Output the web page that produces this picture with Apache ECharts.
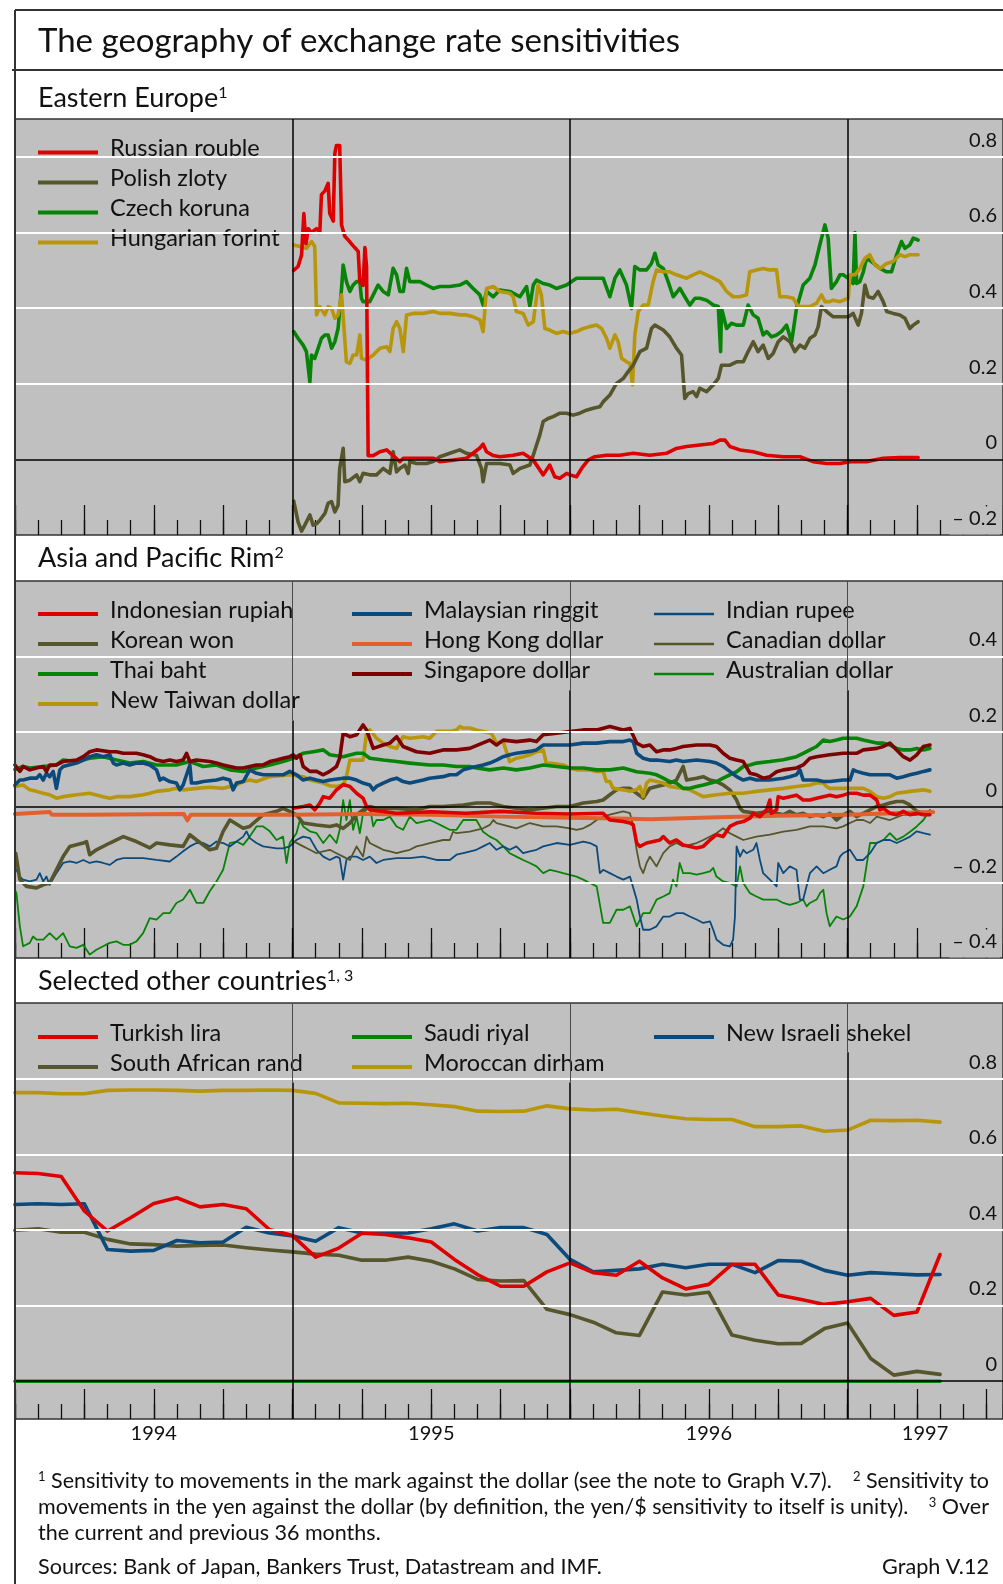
<!DOCTYPE html>
<html>
<head>
<meta charset="utf-8">
<title>The geography of exchange rate sensitivities</title>
<script src="https://cdn.jsdelivr.net/npm/echarts@6/dist/echarts.min.js"></script>
<style>
  html, body { margin: 0; padding: 0; background: #ffffff; }
  #chart { width: 1003px; height: 1584px; }
</style>
</head>
<body>
<div id="chart"></div>
<script>
// x values are months elapsed since 1 January 1994

// ---------- Eastern Europe ----------
const rouble = [[12.05,0.50],[12.24,0.51],[12.39,0.54],[12.49,0.65],[12.58,0.57],[12.68,0.61],[12.82,0.60],[13.04,0.61],[13.18,0.60],[13.25,0.70],[13.40,0.71],[13.54,0.73],[13.61,0.65],[13.76,0.63],[13.83,0.81],[13.90,0.83],[14.04,0.83],[14.12,0.62],[14.26,0.59],[14.41,0.58],[14.55,0.57],[14.69,0.56],[14.84,0.55],[14.91,0.47],[15.05,0.46],[15.13,0.56],[15.20,0.51],[15.27,0.01],[15.49,0.01],[15.78,0.02],[16.07,0.025],[16.35,0.01],[16.64,-0.006],[16.79,0.003],[17.22,0.003],[18.08,0.003],[18.37,-0.006],[18.95,-0.002],[19.52,0.003],[20.10,0.03],[20.24,0.04],[20.39,0.02],[20.68,0.01],[20.96,0.007],[21.54,0.011],[21.97,0.016],[22.41,-0.002],[22.84,-0.041],[23.12,-0.015],[23.34,-0.046],[23.56,-0.05],[23.85,-0.037],[23.99,-0.041],[24.28,-0.046],[24.50,-0.024],[24.78,-0.002],[25.07,0.007],[25.58,0.011],[26.15,0.011],[26.73,0.016],[27.45,0.011],[28.17,0.016],[28.60,0.029],[29.04,0.034],[29.61,0.038],[30.19,0.042],[30.48,0.051],[30.70,0.051],[30.91,0.034],[31.34,0.025],[31.92,0.02],[32.50,0.011],[33.22,0.007],[33.94,0.007],[34.51,-0.006],[35.09,-0.011],[35.67,-0.011],[36.10,-0.006],[36.53,-0.006],[36.82,-0.006],[37.54,0.003],[38.26,0.005],[39.05,0.005]];
const zloty = [[12.05,-0.11],[12.24,-0.165],[12.39,-0.19],[12.53,-0.174],[12.75,-0.147],[12.89,-0.174],[13.04,-0.170],[13.18,-0.161],[13.40,-0.143],[13.54,-0.116],[13.69,-0.112],[13.83,-0.139],[13.97,-0.121],[14.04,-0.024],[14.19,0.029],[14.26,-0.059],[14.48,-0.055],[14.77,-0.041],[14.91,-0.059],[15.05,-0.037],[15.34,-0.041],[15.63,-0.041],[15.92,-0.024],[16.21,-0.037],[16.35,0.02],[16.50,-0.033],[16.64,-0.024],[16.86,-0.015],[17.00,-0.037],[17.07,-0.006],[17.36,-0.011],[17.79,-0.011],[18.08,-0.006],[18.37,0.007],[18.80,0.016],[19.23,0.025],[19.52,0.016],[19.95,0.011],[20.17,-0.024],[20.24,-0.059],[20.39,-0.011],[20.96,-0.011],[21.40,-0.015],[21.54,-0.037],[21.83,-0.024],[22.26,-0.015],[22.41,0.011],[22.55,0.038],[22.69,0.064],[22.84,0.10],[23.05,0.108],[23.27,0.113],[23.56,0.122],[23.85,0.122],[24.13,0.117],[24.42,0.122],[24.71,0.130],[25.00,0.135],[25.29,0.139],[25.43,0.152],[25.72,0.170],[26.01,0.201],[26.30,0.214],[26.51,0.232],[26.73,0.249],[27.02,0.285],[27.31,0.294],[27.52,0.346],[27.67,0.355],[28.03,0.342],[28.31,0.324],[28.60,0.294],[28.82,0.276],[28.96,0.161],[29.11,0.174],[29.32,0.179],[29.47,0.166],[29.61,0.188],[29.90,0.179],[30.19,0.197],[30.41,0.214],[30.55,0.249],[30.91,0.249],[31.20,0.258],[31.49,0.258],[31.70,0.285],[31.92,0.311],[32.13,0.285],[32.35,0.302],[32.57,0.267],[32.78,0.280],[33.00,0.311],[33.22,0.324],[33.51,0.311],[33.72,0.285],[33.94,0.302],[34.15,0.294],[34.37,0.320],[34.59,0.329],[34.73,0.351],[34.87,0.404],[35.09,0.391],[35.38,0.377],[35.67,0.377],[36.03,0.377],[36.24,0.386],[36.46,0.355],[36.60,0.386],[36.75,0.461],[36.89,0.430],[37.11,0.426],[37.32,0.444],[37.54,0.417],[37.69,0.391],[37.97,0.386],[38.26,0.382],[38.48,0.373],[38.69,0.346],[38.84,0.355],[39.05,0.364]];
const koruna = [[12.05,0.338],[12.24,0.320],[12.46,0.302],[12.60,0.285],[12.75,0.205],[12.82,0.276],[12.96,0.267],[13.11,0.294],[13.25,0.320],[13.40,0.329],[13.54,0.329],[13.69,0.294],[13.83,0.311],[13.97,0.346],[14.12,0.452],[14.19,0.514],[14.33,0.470],[14.48,0.444],[14.62,0.461],[14.77,0.470],[14.91,0.470],[14.98,0.426],[15.05,0.417],[15.34,0.417],[15.49,0.435],[15.70,0.461],[15.92,0.444],[16.14,0.435],[16.35,0.505],[16.50,0.488],[16.64,0.444],[16.79,0.444],[16.93,0.505],[17.07,0.470],[17.51,0.470],[17.79,0.461],[18.08,0.452],[18.37,0.457],[18.80,0.457],[19.23,0.461],[19.52,0.470],[19.81,0.452],[20.10,0.435],[20.24,0.408],[20.39,0.444],[20.68,0.430],[20.96,0.448],[21.40,0.444],[21.83,0.430],[22.12,0.457],[22.26,0.404],[22.41,0.461],[22.55,0.474],[22.84,0.465],[23.12,0.461],[23.41,0.452],[23.85,0.461],[24.28,0.479],[25.14,0.479],[25.43,0.479],[25.72,0.430],[25.94,0.479],[26.15,0.501],[26.44,0.461],[26.66,0.399],[26.80,0.510],[27.02,0.501],[27.31,0.501],[27.52,0.518],[27.67,0.545],[27.81,0.514],[28.03,0.505],[28.24,0.470],[28.46,0.430],[28.75,0.452],[28.96,0.430],[29.18,0.408],[29.40,0.426],[29.61,0.426],[29.90,0.421],[30.19,0.408],[30.41,0.404],[30.51,0.285],[30.55,0.399],[30.77,0.346],[30.98,0.360],[31.20,0.355],[31.49,0.355],[31.70,0.408],[31.92,0.382],[32.13,0.373],[32.35,0.329],[32.50,0.338],[32.71,0.324],[32.93,0.329],[33.14,0.338],[33.36,0.355],[33.58,0.311],[33.79,0.399],[34.08,0.461],[34.37,0.479],[34.59,0.514],[34.80,0.567],[35.02,0.620],[35.16,0.585],[35.30,0.452],[35.52,0.470],[35.67,0.488],[35.81,0.488],[36.03,0.479],[36.24,0.465],[36.32,0.60],[36.39,0.465],[36.53,0.470],[36.68,0.496],[36.82,0.532],[37.03,0.523],[37.40,0.505],[37.69,0.496],[37.90,0.496],[38.12,0.541],[38.33,0.576],[38.48,0.558],[38.69,0.567],[38.84,0.585],[39.05,0.580]];
const forint = [[12.05,0.567],[12.32,0.563],[12.60,0.558],[12.82,0.576],[12.96,0.563],[13.04,0.382],[13.18,0.404],[13.40,0.382],[13.54,0.404],[13.69,0.399],[13.83,0.373],[13.97,0.382],[14.12,0.435],[14.19,0.435],[14.33,0.258],[14.48,0.254],[14.62,0.276],[14.77,0.276],[14.91,0.329],[14.98,0.267],[15.20,0.263],[15.49,0.276],[15.78,0.294],[16.07,0.298],[16.21,0.285],[16.35,0.346],[16.50,0.364],[16.64,0.346],[16.79,0.285],[16.93,0.382],[17.22,0.386],[17.65,0.386],[18.08,0.391],[18.37,0.386],[18.80,0.386],[19.23,0.382],[19.52,0.382],[19.81,0.377],[20.10,0.369],[20.24,0.338],[20.39,0.452],[20.68,0.457],[20.96,0.444],[21.40,0.439],[21.54,0.430],[21.68,0.391],[21.97,0.386],[22.19,0.355],[22.41,0.364],[22.62,0.461],[22.76,0.435],[22.91,0.346],[23.12,0.342],[23.41,0.333],[23.70,0.338],[23.99,0.333],[24.28,0.338],[24.57,0.346],[24.85,0.351],[25.14,0.355],[25.36,0.346],[25.58,0.320],[25.72,0.294],[25.94,0.329],[26.08,0.311],[26.23,0.267],[26.44,0.258],[26.59,0.254],[26.70,0.197],[26.80,0.329],[26.95,0.391],[27.16,0.408],[27.38,0.408],[27.59,0.470],[27.74,0.501],[28.03,0.496],[28.31,0.496],[28.60,0.488],[29.04,0.479],[29.32,0.488],[29.61,0.496],[29.90,0.488],[30.19,0.479],[30.48,0.470],[30.77,0.444],[31.05,0.430],[31.34,0.430],[31.63,0.435],[31.77,0.496],[32.06,0.501],[32.35,0.505],[32.64,0.501],[32.93,0.501],[33.07,0.430],[33.36,0.430],[33.65,0.426],[33.87,0.404],[34.08,0.404],[34.37,0.404],[34.66,0.413],[34.87,0.435],[35.02,0.417],[35.23,0.417],[35.38,0.421],[35.67,0.417],[36.03,0.426],[36.10,0.488],[36.32,0.488],[36.53,0.505],[36.75,0.532],[36.96,0.541],[37.18,0.514],[37.40,0.505],[37.69,0.518],[37.97,0.523],[38.26,0.541],[38.48,0.536],[38.69,0.541],[39.05,0.541]];

// ---------- Asia and Pacific Rim ----------
const rupiah = [[12.03,-0.003],[12.46,0.002],[12.75,0.006],[12.96,-0.007],[13.18,0.011],[13.33,0.028],[13.61,0.024],[13.90,0.046],[14.19,0.060],[14.48,0.055],[14.77,0.037],[15.05,0.024],[15.20,0.002],[15.34,-0.007],[16.5,-0.016],[18,-0.012],[19.5,-0.016],[21,-0.011],[22.5,-0.016],[24,-0.018],[25.43,-0.016],[25.72,-0.034],[26.30,-0.038],[26.59,-0.042],[26.73,-0.047],[26.88,-0.095],[27.02,-0.104],[27.31,-0.095],[27.6,-0.091],[27.89,-0.087],[28.03,-0.078],[28.31,-0.095],[28.60,-0.087],[28.89,-0.10],[29.18,-0.104],[29.47,-0.108],[29.76,-0.104],[30.05,-0.087],[30.33,-0.073],[30.62,-0.078],[30.91,-0.051],[31.20,-0.042],[31.49,-0.038],[31.78,-0.029],[31.92,-0.016],[32.2,-0.025],[32.5,-0.007],[32.64,0.019],[32.7,-0.016],[32.93,-0.007],[33.0,0.028],[33.22,0.024],[33.5,0.028],[33.79,0.032],[34.08,0.019],[34.37,0.019],[34.66,0.024],[34.95,0.028],[35.23,0.032],[35.52,0.028],[35.81,0.032],[36.10,0.037],[36.39,0.037],[36.68,0.032],[36.97,0.032],[37.26,0.019],[37.4,-0.007],[37.55,-0.003],[37.83,-0.016],[38.12,-0.020],[38.41,-0.011],[38.70,-0.020],[38.99,-0.016],[39.28,-0.020],[39.56,-0.020]];
const won = [[0.03,-0.122],[0.21,-0.192],[0.50,-0.210],[0.93,-0.214],[1.22,-0.206],[1.50,-0.201],[1.79,-0.166],[2.08,-0.131],[2.37,-0.104],[2.95,-0.095],[3.09,-0.091],[3.23,-0.126],[3.52,-0.113],[4.10,-0.095],[4.68,-0.078],[5.25,-0.091],[5.83,-0.108],[6.12,-0.095],[6.69,-0.100],[7.27,-0.104],[7.56,-0.073],[7.85,-0.087],[8.42,-0.113],[8.71,-0.109],[9.00,-0.064],[9.29,-0.034],[9.87,-0.056],[10.15,-0.051],[10.73,-0.020],[11.31,-0.011],[11.59,-0.003],[11.88,-0.011],[12.17,-0.020],[12.46,-0.042],[13.04,-0.047],[13.61,-0.051],[13.90,-0.047],[14.19,-0.056],[14.48,-0.042],[14.77,-0.020],[15.05,-0.007],[15.34,0.002],[15.63,-0.003],[16.50,-0.003],[17.36,-0.007],[17.93,0.002],[18.51,0.002],[19.38,0.006],[19.95,0.011],[20.53,0.011],[21.11,0.002],[21.68,-0.003],[22.26,-0.007],[22.84,-0.003],[23.42,0.002],[23.99,0.002],[24.57,0.011],[25.15,0.015],[25.43,0.019],[25.72,0.033],[26.01,0.046],[26.30,0.050],[26.59,0.050],[26.88,0.037],[27.16,0.024],[27.45,0.050],[27.74,0.055],[28.03,0.059],[28.31,0.064],[28.60,0.072],[28.89,0.108],[29.04,0.072],[29.47,0.077],[29.76,0.081],[30.05,0.072],[30.33,0.068],[30.62,0.059],[30.91,0.046],[31.20,0.019],[31.35,-0.003],[31.49,-0.011],[32.06,-0.016],[32.64,-0.011],[32.93,-0.016],[33.22,-0.020],[33.50,-0.011],[33.79,-0.020],[34.08,-0.016],[34.37,-0.025],[34.66,-0.020],[34.95,-0.025],[35.23,-0.016],[35.52,-0.034],[35.81,-0.020],[36.10,-0.011],[36.39,-0.025],[36.68,-0.016],[36.97,-0.007],[37.26,0.002],[37.55,0.006],[37.83,0.011],[38.12,0.015],[38.41,0.015],[38.70,0.006],[38.99,-0.011],[39.28,-0.016],[39.56,-0.016]];
const baht = [[0,0.10],[0.35,0.108],[0.64,0.104],[1.22,0.108],[1.79,0.112],[2.08,0.125],[2.66,0.121],[3.23,0.13],[3.81,0.134],[4.39,0.125],[4.96,0.117],[5.54,0.121],[6.12,0.112],[6.98,0.112],[7.56,0.121],[8.14,0.108],[8.71,0.112],[9.29,0.099],[9.87,0.095],[10.44,0.104],[11.02,0.112],[11.59,0.121],[12.03,0.13],[12.46,0.143],[12.96,0.148],[13.33,0.152],[13.61,0.139],[14.19,0.134],[14.77,0.143],[15.05,0.143],[15.34,0.130],[15.92,0.125],[16.50,0.121],[17.07,0.117],[17.93,0.112],[18.51,0.112],[19.09,0.108],[19.66,0.108],[19.95,0.104],[20.53,0.099],[21.11,0.104],[21.68,0.099],[22.26,0.104],[22.84,0.112],[23.42,0.108],[23.99,0.104],[24.57,0.104],[25.15,0.099],[25.72,0.099],[26.30,0.104],[26.88,0.094],[27.45,0.090],[27.74,0.086],[28.03,0.077],[28.31,0.068],[28.60,0.064],[28.89,0.050],[29.18,0.050],[29.47,0.055],[29.76,0.059],[30.33,0.068],[30.62,0.077],[30.91,0.086],[31.20,0.094],[31.49,0.108],[31.78,0.112],[32.06,0.117],[32.64,0.121],[33.22,0.126],[33.50,0.130],[33.79,0.134],[34.08,0.143],[34.37,0.152],[34.66,0.161],[34.95,0.178],[35.23,0.174],[35.52,0.178],[35.81,0.183],[36.10,0.183],[36.39,0.183],[36.68,0.178],[36.97,0.174],[37.26,0.17],[37.55,0.17],[37.83,0.165],[38.12,0.156],[38.41,0.152],[38.70,0.152],[38.99,0.156],[39.28,0.152],[39.56,0.156]];
const taiwanDollar = [[0,0.055],[0.35,0.059],[0.64,0.046],[0.93,0.042],[1.22,0.037],[1.50,0.033],[1.79,0.024],[2.08,0.028],[2.66,0.033],[3.23,0.037],[3.81,0.028],[4.10,0.024],[4.39,0.028],[4.96,0.028],[5.54,0.033],[5.83,0.037],[6.12,0.042],[6.69,0.046],[6.98,0.050],[7.27,0.046],[7.85,0.050],[8.42,0.053],[9.00,0.050],[9.58,0.059],[9.87,0.068],[10.15,0.072],[10.44,0.068],[11.02,0.081],[11.88,0.086],[12.46,0.081],[12.75,0.072],[13.04,0.068],[13.33,0.064],[13.61,0.057],[13.90,0.055],[14.19,0.059],[14.33,0.081],[14.48,0.125],[15.05,0.125],[15.20,0.196],[15.34,0.205],[15.63,0.183],[15.92,0.170],[16.21,0.161],[16.50,0.156],[16.78,0.187],[17.07,0.183],[17.65,0.187],[17.93,0.183],[18.22,0.201],[18.80,0.201],[19.09,0.205],[19.23,0.214],[19.38,0.210],[19.66,0.210],[19.95,0.205],[20.24,0.201],[20.60,0.196],[20.82,0.170],[21.11,0.174],[21.39,0.121],[21.68,0.130],[21.97,0.134],[22.26,0.139],[22.55,0.147],[22.84,0.152],[22.99,0.112],[23.13,0.117],[23.70,0.112],[23.99,0.104],[24.28,0.099],[24.86,0.099],[25.15,0.095],[25.43,0.095],[25.57,0.068],[25.72,0.068],[25.86,0.050],[26.30,0.046],[26.59,0.042],[26.88,0.046],[27.02,0.055],[27.16,0.028],[27.31,0.064],[27.45,0.072],[28.03,0.064],[28.31,0.055],[28.89,0.050],[29.18,0.046],[29.47,0.037],[29.76,0.028],[30.33,0.033],[30.91,0.037],[31.49,0.037],[32.06,0.042],[32.64,0.046],[33.22,0.050],[33.79,0.055],[34.37,0.059],[34.66,0.064],[34.95,0.064],[35.09,0.055],[35.23,0.050],[36.10,0.050],[36.68,0.050],[36.97,0.042],[37.26,0.028],[37.55,0.024],[37.83,0.028],[38.12,0.037],[38.70,0.042],[39.28,0.046],[39.56,0.042]];
const ringgit = [[0,0.059],[0.21,0.072],[0.35,0.072],[0.64,0.077],[0.93,0.077],[1.07,0.086],[1.22,0.072],[1.36,0.090],[1.50,0.081],[1.65,0.095],[1.79,0.050],[1.94,0.099],[2.08,0.108],[2.66,0.117],[2.95,0.125],[3.23,0.134],[3.52,0.139],[3.81,0.134],[4.10,0.139],[4.25,0.117],[4.39,0.112],[4.68,0.117],[4.96,0.112],[5.25,0.117],[5.54,0.117],[5.83,0.112],[6.12,0.099],[6.27,0.072],[6.41,0.077],[6.69,0.068],[6.98,0.064],[7.13,0.046],[7.27,0.059],[7.56,0.112],[7.63,0.064],[7.85,0.064],[8.14,0.068],[8.71,0.072],[9.00,0.077],[9.29,0.072],[9.43,0.046],[9.58,0.064],[9.87,0.068],[10.15,0.099],[10.44,0.090],[10.73,0.086],[11.59,0.086],[11.88,0.095],[12.17,0.086],[12.46,0.072],[12.75,0.077],[13.04,0.072],[13.33,0.068],[13.61,0.072],[14.19,0.077],[14.48,0.077],[14.77,0.072],[15.05,0.064],[15.34,0.059],[15.49,0.046],[15.63,0.055],[15.92,0.064],[16.21,0.072],[16.50,0.077],[16.78,0.068],[17.07,0.064],[17.36,0.068],[17.65,0.072],[17.93,0.077],[18.51,0.081],[18.80,0.086],[19.09,0.086],[19.38,0.099],[19.66,0.104],[19.95,0.108],[20.24,0.112],[20.53,0.117],[20.82,0.125],[21.11,0.134],[21.39,0.139],[21.68,0.143],[22.26,0.148],[22.55,0.152],[22.84,0.165],[23.42,0.165],[23.99,0.165],[24.57,0.170],[25.15,0.170],[25.72,0.174],[26.30,0.174],[26.59,0.178],[26.73,0.174],[26.88,0.143],[27.16,0.130],[27.45,0.125],[27.74,0.125],[28.31,0.121],[28.60,0.125],[28.89,0.121],[29.47,0.125],[30.05,0.121],[30.33,0.117],[30.62,0.108],[30.91,0.095],[31.20,0.081],[31.49,0.072],[31.78,0.077],[32.06,0.072],[32.64,0.072],[33.22,0.077],[33.50,0.081],[33.79,0.086],[33.94,0.099],[34.08,0.072],[34.66,0.072],[34.95,0.068],[35.23,0.068],[35.81,0.072],[36.10,0.072],[36.25,0.099],[36.39,0.095],[36.68,0.090],[36.97,0.086],[37.55,0.086],[37.83,0.086],[38.12,0.077],[38.41,0.081],[38.70,0.086],[38.99,0.090],[39.28,0.095],[39.56,0.099]];
const hkDollar = [[0,-0.018],[1.5,-0.013],[1.6,-0.02],[3,-0.02],[7.3,-0.018],[7.45,-0.035],[7.6,-0.02],[12,-0.02],[15,-0.018],[18,-0.02],[21,-0.025],[24,-0.028],[26,-0.03],[27.5,-0.032],[30,-0.027],[33,-0.023],[36,-0.02],[39.7,-0.013]];
const singDollar = [[0,0.112],[0.21,0.095],[0.35,0.108],[0.64,0.099],[0.93,0.104],[1.22,0.108],[1.36,0.095],[1.50,0.112],[1.79,0.112],[2.08,0.121],[2.66,0.125],[2.95,0.134],[3.23,0.147],[3.52,0.152],[4.10,0.147],[4.39,0.147],[4.68,0.143],[5.25,0.143],[5.54,0.139],[5.83,0.134],[6.12,0.125],[6.41,0.121],[6.69,0.125],[6.98,0.121],[7.27,0.125],[7.42,0.143],[7.56,0.121],[7.85,0.125],[8.42,0.121],[8.71,0.117],[9.00,0.112],[9.29,0.108],[9.58,0.104],[9.87,0.104],[10.15,0.108],[10.44,0.112],[10.73,0.112],[11.02,0.121],[11.31,0.125],[11.59,0.130],[11.88,0.134],[12.03,0.139],[12.17,0.130],[12.32,0.139],[12.46,0.108],[12.75,0.095],[13.04,0.095],[13.33,0.086],[13.61,0.095],[13.90,0.108],[14.04,0.130],[14.19,0.196],[14.48,0.187],[14.77,0.192],[15.05,0.218],[15.20,0.205],[15.49,0.156],[15.92,0.165],[16.21,0.170],[16.50,0.187],[16.78,0.161],[17.36,0.147],[17.93,0.143],[18.51,0.152],[19.09,0.152],[19.66,0.156],[20.53,0.178],[20.82,0.165],[21.11,0.178],[21.68,0.174],[22.26,0.178],[22.55,0.174],[22.84,0.192],[23.42,0.196],[23.99,0.201],[24.57,0.205],[25.15,0.205],[25.72,0.214],[26.30,0.205],[26.59,0.209],[26.88,0.170],[27.16,0.161],[27.45,0.165],[27.74,0.147],[28.03,0.152],[28.31,0.152],[28.60,0.156],[28.89,0.161],[29.47,0.165],[30.05,0.165],[30.33,0.161],[30.62,0.143],[30.91,0.130],[31.20,0.125],[31.49,0.121],[31.78,0.090],[32.06,0.086],[32.35,0.077],[32.64,0.081],[32.93,0.094],[33.22,0.099],[33.79,0.104],[34.08,0.112],[34.37,0.130],[34.66,0.134],[35.23,0.139],[35.81,0.143],[36.39,0.143],[36.68,0.152],[37.26,0.156],[37.55,0.161],[37.83,0.170],[38.12,0.152],[38.41,0.134],[38.70,0.125],[38.99,0.139],[39.28,0.161],[39.56,0.165]];
const rupee = [[0.06,-0.166],[0.21,-0.184],[0.35,-0.192],[0.64,-0.197],[0.93,-0.192],[1.07,-0.175],[1.22,-0.197],[1.36,-0.184],[1.50,-0.206],[1.79,-0.175],[2.08,-0.148],[2.37,-0.144],[2.66,-0.148],[2.95,-0.140],[3.23,-0.148],[3.52,-0.144],[3.81,-0.148],[4.10,-0.153],[4.39,-0.140],[4.68,-0.135],[5.54,-0.135],[6.12,-0.140],[6.69,-0.144],[6.98,-0.131],[7.27,-0.117],[7.56,-0.104],[7.85,-0.095],[8.14,-0.095],[8.42,-0.104],[8.71,-0.091],[9.00,-0.095],[9.29,-0.104],[9.58,-0.091],[9.87,-0.078],[10.01,-0.064],[10.15,-0.082],[10.44,-0.095],[10.73,-0.104],[11.31,-0.109],[11.59,-0.109],[11.88,-0.104],[12.17,-0.087],[12.46,-0.078],[12.75,-0.082],[13.04,-0.113],[13.33,-0.131],[13.61,-0.140],[13.90,-0.131],[14.04,-0.135],[14.19,-0.192],[14.33,-0.140],[14.48,-0.131],[14.77,-0.131],[15.05,-0.140],[15.34,-0.131],[15.63,-0.148],[15.92,-0.140],[16.50,-0.135],[17.07,-0.135],[17.65,-0.131],[18.22,-0.140],[18.80,-0.140],[19.09,-0.126],[19.38,-0.122],[19.95,-0.113],[20.24,-0.104],[20.53,-0.095],[20.82,-0.113],[21.11,-0.104],[21.39,-0.113],[21.68,-0.104],[21.97,-0.122],[22.26,-0.117],[22.55,-0.113],[22.84,-0.104],[23.42,-0.095],[23.99,-0.100],[24.57,-0.091],[24.86,-0.095],[25.15,-0.104],[25.29,-0.175],[25.43,-0.166],[25.72,-0.175],[26.01,-0.184],[26.30,-0.192],[26.59,-0.184],[26.88,-0.245],[27.02,-0.290],[27.16,-0.325],[27.45,-0.325],[27.74,-0.316],[28.03,-0.290],[28.31,-0.290],[28.60,-0.281],[28.89,-0.281],[29.18,-0.290],[29.47,-0.298],[29.76,-0.307],[30.05,-0.303],[30.19,-0.325],[30.33,-0.351],[30.62,-0.365],[30.91,-0.369],[31.05,-0.351],[31.13,-0.290],[31.20,-0.104],[31.35,-0.131],[31.49,-0.113],[31.63,-0.122],[31.92,-0.113],[32.06,-0.095],[32.21,-0.140],[32.35,-0.175],[32.64,-0.192],[32.93,-0.210],[33.00,-0.148],[33.22,-0.175],[33.50,-0.157],[33.79,-0.166],[33.94,-0.245],[34.08,-0.245],[34.37,-0.175],[34.66,-0.157],[34.95,-0.175],[35.23,-0.166],[35.52,-0.157],[35.67,-0.131],[35.81,-0.122],[36.10,-0.113],[36.39,-0.140],[36.68,-0.140],[36.97,-0.122],[37.26,-0.095],[37.55,-0.087],[37.83,-0.087],[38.12,-0.095],[38.41,-0.087],[38.70,-0.078],[38.99,-0.064],[39.28,-0.069],[39.56,-0.073]];
const cadDollar = [[12.03,-0.09],[12.46,-0.104],[12.75,-0.113],[13.04,-0.122],[13.33,-0.117],[13.61,-0.113],[13.90,-0.122],[14.19,-0.131],[14.48,-0.140],[14.77,-0.104],[15.05,-0.131],[15.20,-0.078],[15.34,-0.095],[15.63,-0.104],[15.92,-0.113],[16.21,-0.117],[16.50,-0.122],[16.78,-0.117],[17.07,-0.113],[17.36,-0.104],[17.65,-0.100],[17.93,-0.095],[18.51,-0.087],[18.80,-0.087],[18.94,-0.065],[19.09,-0.069],[19.66,-0.065],[20.24,-0.056],[20.53,-0.047],[20.68,-0.034],[20.82,-0.042],[21.11,-0.047],[21.68,-0.056],[22.26,-0.042],[22.84,-0.051],[23.42,-0.051],[23.99,-0.056],[24.28,-0.060],[24.57,-0.056],[24.86,-0.047],[25.15,-0.034],[25.43,-0.025],[25.72,-0.020],[26.30,-0.011],[26.59,-0.016],[26.74,-0.051],[26.88,-0.113],[27.02,-0.157],[27.16,-0.175],[27.31,-0.148],[27.45,-0.131],[27.74,-0.157],[28.03,-0.122],[28.31,-0.104],[28.60,-0.095],[28.89,-0.104],[29.47,-0.095],[29.76,-0.087],[30.33,-0.069],[30.62,-0.056],[30.91,-0.069],[31.20,-0.078],[31.49,-0.087],[32.06,-0.078],[32.64,-0.073],[33.22,-0.065],[33.79,-0.060],[34.37,-0.051],[34.95,-0.051],[35.52,-0.056],[35.81,-0.051],[36.10,-0.042],[36.39,-0.034],[36.68,-0.034],[36.97,-0.042],[37.26,-0.025],[37.83,-0.034],[38.41,-0.020],[38.99,-0.020],[39.28,-0.011],[39.56,-0.016]];
const audDollar = [[0,-0.22],[0.06,-0.228],[0.21,-0.316],[0.35,-0.369],[0.64,-0.360],[0.78,-0.343],[0.93,-0.351],[1.22,-0.351],[1.50,-0.334],[1.79,-0.351],[2.08,-0.334],[2.37,-0.369],[2.66,-0.373],[2.95,-0.365],[3.23,-0.391],[3.52,-0.378],[3.81,-0.369],[4.10,-0.360],[4.39,-0.356],[4.68,-0.365],[4.96,-0.365],[5.25,-0.356],[5.54,-0.334],[5.83,-0.294],[6.12,-0.298],[6.41,-0.281],[6.69,-0.281],[6.98,-0.254],[7.27,-0.245],[7.56,-0.219],[7.85,-0.254],[8.14,-0.254],[8.42,-0.223],[8.71,-0.197],[9.00,-0.166],[9.29,-0.095],[9.58,-0.091],[9.87,-0.100],[10.15,-0.078],[10.44,-0.051],[10.73,-0.051],[11.02,-0.064],[11.31,-0.087],[11.59,-0.078],[11.74,-0.148],[11.88,-0.095],[12.17,-0.069],[12.32,-0.034],[12.46,-0.051],[12.75,-0.064],[13.04,-0.069],[13.33,-0.095],[13.61,-0.073],[13.90,-0.095],[14.04,-0.060],[14.19,0.019],[14.33,-0.034],[14.48,0.019],[14.62,-0.060],[14.77,-0.025],[14.91,-0.069],[15.05,-0.016],[15.34,0.002],[15.49,-0.051],[15.63,-0.034],[15.92,-0.034],[16.21,-0.025],[16.50,-0.051],[16.78,-0.060],[17.07,-0.025],[17.36,-0.042],[17.65,-0.038],[17.93,-0.034],[18.22,-0.042],[18.51,-0.051],[18.80,-0.060],[19.09,-0.060],[19.38,-0.034],[19.95,-0.034],[20.24,-0.065],[20.53,-0.078],[20.82,-0.087],[21.11,-0.104],[21.39,-0.122],[21.68,-0.131],[21.97,-0.140],[22.26,-0.148],[22.55,-0.157],[22.84,-0.175],[23.13,-0.166],[23.42,-0.170],[23.70,-0.175],[24.28,-0.184],[24.57,-0.192],[24.86,-0.201],[25.15,-0.210],[25.43,-0.307],[25.72,-0.307],[26.01,-0.272],[26.30,-0.272],[26.59,-0.263],[26.88,-0.316],[27.16,-0.281],[27.45,-0.281],[27.74,-0.245],[28.03,-0.237],[28.31,-0.228],[28.45,-0.192],[28.60,-0.210],[28.74,-0.148],[28.89,-0.175],[29.18,-0.175],[29.47,-0.179],[29.76,-0.175],[30.05,-0.170],[30.19,-0.161],[30.33,-0.184],[30.62,-0.197],[30.91,-0.201],[31.20,-0.210],[31.35,-0.157],[31.49,-0.201],[31.78,-0.228],[32.06,-0.237],[32.35,-0.245],[32.64,-0.245],[32.93,-0.245],[33.22,-0.254],[33.50,-0.259],[33.79,-0.254],[34.08,-0.245],[34.23,-0.263],[34.37,-0.254],[34.66,-0.245],[34.81,-0.228],[34.95,-0.219],[35.09,-0.281],[35.23,-0.316],[35.52,-0.290],[35.81,-0.298],[36.10,-0.290],[36.39,-0.263],[36.68,-0.210],[36.97,-0.095],[37.26,-0.095],[37.55,-0.087],[37.83,-0.069],[38.12,-0.087],[38.41,-0.078],[38.70,-0.065],[38.99,-0.051],[39.28,-0.034],[39.56,-0.007]];

// ---------- Selected other countries (one value per month from January 1994) ----------
const lira   = [0.551,0.549,0.541,0.450,0.397,0.432,0.470,0.485,0.461,0.467,0.456,0.401,0.385,0.328,0.352,0.391,0.388,0.379,0.368,0.322,0.282,0.251,0.251,0.289,0.313,0.287,0.280,0.317,0.273,0.244,0.256,0.309,0.309,0.228,0.216,0.203,0.210,0.219,0.174,0.183,0.335];
const rand   = [0.399,0.403,0.394,0.394,0.375,0.363,0.361,0.357,0.359,0.360,0.353,0.347,0.342,0.336,0.333,0.320,0.320,0.328,0.317,0.297,0.269,0.265,0.266,0.190,0.176,0.156,0.128,0.121,0.236,0.228,0.235,0.122,0.108,0.099,0.100,0.139,0.154,0.060,0.016,0.026,0.018];
const riyal  = [0,0,0,0,0,0,0,0,0,0,0,0,0,0,0,0,0,0,0,0,0,0,0,0,0,0,0,0,0,0,0,0,0,0,0,0,0,0,0,0,0];
const dirham = [0.763,0.763,0.760,0.760,0.769,0.770,0.770,0.769,0.767,0.769,0.769,0.770,0.769,0.761,0.736,0.735,0.734,0.735,0.731,0.726,0.714,0.713,0.714,0.728,0.720,0.717,0.719,0.710,0.701,0.694,0.692,0.692,0.673,0.673,0.675,0.661,0.664,0.690,0.689,0.690,0.685];
const shekel = [0.467,0.469,0.467,0.469,0.348,0.344,0.346,0.372,0.366,0.368,0.407,0.392,0.384,0.370,0.406,0.392,0.391,0.392,0.403,0.416,0.397,0.406,0.406,0.388,0.322,0.289,0.293,0.297,0.309,0.300,0.309,0.309,0.287,0.319,0.317,0.293,0.280,0.287,0.284,0.281,0.282];

// ---------- axis ticks, labels and grid lines ----------
const yearLabels   = ['1994', '1995', '1996', '1997'];
const yearLabelPos = [6, 18, 30, 39.35];
const yearBreaks   = [12, 24, 36];
const ticksEast  = [-0.2, 0, 0.2, 0.4, 0.6, 0.8];
const ticksAsia  = [-0.4, -0.2, 0, 0.2, 0.4];
const ticksOther = [0, 0.2, 0.4, 0.6, 0.8];
const gridEast  = [0.2, 0.4, 0.6, 0.8];
const gridAsia  = [-0.2, 0.2, 0.4];
const gridOther = [0.2, 0.4, 0.6, 0.8];

// ---------- styling ----------
const FONT = 'Lato';
const INK = '#111111';
const PLOT_BG = '#c0c0c0';
const C = {
  red: '#de0000', olive: '#56552b', green: '#078407', gold: '#b8960b',
  blue: '#0c4a7c', orange: '#e1602e', maroon: '#7e0000'
};
const X_MAX = 42.72;
const THICK = 3.6, THIN = 1.8;

const panels = [
  { top: 119,  height: 416, min: -0.2, max: 0.9, interval: 0.1, labels: ticksEast,  lines: gridEast,
    breakTops: [0.9, 0.9, 0.9] },
  { top: 581,  height: 377, min: -0.4, max: 0.6, interval: 0.2, labels: ticksAsia,  lines: gridAsia,
    breakTops: [0.23, 0.31, 0.31] },
  { top: 1003, height: 416, min: -0.1, max: 1.0, interval: 0.1, labels: ticksOther, lines: gridOther,
    breakTops: [0.79, 0.79, 0.87] }
];

// value label: en dash and a space for negatives, set on a patch of plot colour
function fmtY(v) {
  let s;
  if (Math.abs(v) < 1e-9) s = '0';
  else s = (v < 0 ? '\u2013 ' : '') + Math.abs(v).toFixed(1);
  return '{v|' + s + '}';
}

const grids = panels.map(p => ({
  left: 15, right: 0, top: p.top, height: p.height,
  show: true, backgroundColor: PLOT_BG, borderColor: '#333333', borderWidth: 1.5,
  containLabel: false, outerBoundsMode: 'none'
}));

const xAxes = [];
panels.forEach((p, g) => {
  // monthly ticks
  xAxes.push({
    type: 'value', gridIndex: g, min: 0, max: X_MAX, interval: 1, position: 'bottom', z: 0,
    axisLine: { show: false, onZero: false }, splitLine: { show: false }, axisLabel: { show: false },
    axisTick: { show: true, inside: true, length: 15, lineStyle: { color: INK, width: 1.3 } }
  });
  // quarterly ticks
  xAxes.push({
    type: 'value', gridIndex: g, min: 0, max: X_MAX, interval: 3, position: 'bottom', z: 0,
    axisLine: { show: false, onZero: false }, splitLine: { show: false }, axisLabel: { show: false },
    axisTick: { show: true, inside: true, length: 30, lineStyle: { color: INK, width: 1.3 } }
  });
});
// year labels under the last panel
xAxes.push({
  type: 'value', gridIndex: 2, min: 0, max: X_MAX, position: 'bottom',
  axisLine: { show: false, onZero: false }, splitLine: { show: false }, axisTick: { show: false },
  axisLabel: {
    show: true, customValues: yearLabelPos, margin: 5, fontFamily: FONT, fontSize: 20, color: INK,
    formatter: v => {
      const i = yearLabelPos.findIndex(p => Math.abs(p - v) < 0.01);
      return i >= 0 ? yearLabels[i] : '';
    }
  }
});

const yAxes = panels.map((p, g) => ({
  type: 'value', gridIndex: g, position: 'right', min: p.min, max: p.max, interval: p.interval, z: 3,
  axisLine: { show: false, onZero: false }, axisTick: { show: false }, splitLine: { show: false },
  axisLabel: {
    show: true, inside: true, customValues: p.labels, margin: 3,
    fontFamily: FONT, fontSize: 20, color: INK,
    verticalAlign: 'bottom', padding: [0, 0, 4.5, 0],
    formatter: fmtY,
    rich: { v: { fontFamily: FONT, fontSize: 20, color: INK, lineHeight: 20,
                 backgroundColor: PLOT_BG, padding: [2, 3, 6, 3] } }
  }
}));

const xIdx = [0, 2, 4];

// grid lines, zero line and year dividers for each panel
const frameSeries = panels.map((p, g) => {
  const data = p.lines.map(v => ({ yAxis: v, lineStyle: { color: '#ffffff', width: 2, type: 'solid' } }));
  data.push({ yAxis: 0, lineStyle: { color: '#000000', width: 1.5, type: 'solid' } });
  yearBreaks.forEach((x, i) => {
    const t = p.breakTops[i];
    data.push([{ coord: [x, p.min], lineStyle: { color: '#000000', width: 1.5, type: 'solid' } }, { coord: [x, t] }]);
    if (t < p.max) {
      data.push([{ coord: [x, t], lineStyle: { color: '#4a4a4a', width: 1, type: 'solid' } }, { coord: [x, p.max] }]);
    }
  });
  return {
    type: 'line', name: 'frame' + g, xAxisIndex: xIdx[g], yAxisIndex: g, data: [], z: 1, silent: true,
    markLine: { silent: true, symbol: ['none', 'none'], animation: false, label: { show: false }, data }
  };
});

function line(name, data, color, width, g) {
  return {
    type: 'line', name, data, xAxisIndex: xIdx[g], yAxisIndex: g, z: 2,
    showSymbol: false, symbol: 'none', silent: true, animation: false,
    lineStyle: { color, width, join: 'round', cap: 'round' }, itemStyle: { color },
    emphasis: { disabled: true }
  };
}
const monthly = arr => arr.map((v, i) => [i, v]);

const series = [
  ...frameSeries,
  line('Czech koruna', koruna, C.green, THICK, 0),
  line('Hungarian forint', forint, C.gold, THICK, 0),
  line('Polish zloty', zloty, C.olive, THICK, 0),
  line('Russian rouble', rouble, C.red, THICK, 0),

  line('Australian dollar', audDollar, C.green, THIN, 1),
  line('Indian rupee', rupee, C.blue, THIN, 1),
  line('Canadian dollar', cadDollar, C.olive, THIN, 1),
  line('Korean won', won, C.olive, THICK, 1),
  line('Hong Kong dollar', hkDollar, C.orange, 4, 1),
  line('New Taiwan dollar', taiwanDollar, C.gold, THICK, 1),
  line('Thai baht', baht, C.green, THICK, 1),
  line('Malaysian ringgit', ringgit, C.blue, THICK, 1),
  line('Indonesian rupiah', rupiah, C.red, THICK, 1),
  line('Singapore dollar', singDollar, C.maroon, THICK, 1),

  line('Moroccan dirham', monthly(dirham), C.gold, THICK, 2),
  line('South African rand', monthly(rand), C.olive, THICK, 2),
  line('New Israeli shekel', monthly(shekel), C.blue, THICK, 2),
  line('Turkish lira', monthly(lira), C.red, THICK, 2),
  line('Saudi riyal', monthly(riyal), C.green, THICK, 2)
];

// legend key: a bar sitting a little below the middle of the text line
const KEY_THICK = 'path://M0,0M60,12M0,8L60,8L60,12L0,12Z';
const KEY_THIN  = 'path://M0,0M60,12M0,8.8L60,8.8L60,11.2L0,11.2Z';
function legendBlock(names, left, textMid, icon) {
  return {
    data: names, orient: 'vertical', left, top: textMid - 15, padding: 0, itemGap: 0,
    icon, itemWidth: 60, itemHeight: 12, selectedMode: false,
    textStyle: { fontFamily: FONT, fontSize: 23.5, color: INK, lineHeight: 30, padding: [0, 0, 0, 7] }
  };
}
const legends = [
  legendBlock(['Russian rouble', 'Polish zloty', 'Czech koruna', 'Hungarian forint'], 38, 148.5, KEY_THICK),
  legendBlock(['Indonesian rupiah', 'Korean won', 'Thai baht', 'New Taiwan dollar'], 38, 610, KEY_THICK),
  legendBlock(['Malaysian ringgit', 'Hong Kong dollar', 'Singapore dollar'], 352, 610, KEY_THICK),
  legendBlock(['Indian rupee', 'Canadian dollar', 'Australian dollar'], 654, 610, KEY_THIN),
  legendBlock(['Turkish lira', 'South African rand'], 38, 1033, KEY_THICK),
  legendBlock(['Saudi riyal', 'Moroccan dirham'], 352, 1033, KEY_THICK),
  legendBlock(['New Israeli shekel'], 654, 1033, KEY_THICK)
];

function txt(text, x, y, size, align) {
  return {
    type: 'text', x, y, z: 20, silent: true,
    style: {
      text, fill: INK, fontFamily: FONT, fontSize: size, align: align || 'left', verticalAlign: 'middle',
      rich: { s: { fontFamily: FONT, fill: INK, fontSize: Math.round(size * 0.6), lineHeight: size, verticalAlign: 'top' } }
    }
  };
}
function rule(x1, y1, x2, y2) {
  return { type: 'line', z: 20, silent: true, shape: { x1, y1, x2, y2 }, style: { stroke: '#333333', lineWidth: 2 } };
}

const graphics = [
  rule(15, 10, 15, 1584),
  rule(15, 10, 1003, 10),
  rule(12, 70, 1003, 70),
  txt('The geography of exchange rate sensitivities', 38, 41, 33),
  txt('Eastern Europe{s|1}', 38, 98, 27),
  txt('Asia and Pacific Rim{s|2}', 38, 558, 27),
  txt('Selected other countries{s|1, 3}', 38, 981, 27),
  txt('{s|1} Sensitivity to movements in the mark against the dollar (see the note to Graph V.7).', 38, 1481, 21.5),
  txt('{s|2} Sensitivity to', 989, 1481, 21.5, 'right'),
  txt('movements in the yen against the dollar (by definition, the yen/$ sensitivity to itself is unity).', 38, 1507, 21.5),
  txt('{s|3} Over', 989, 1507, 21.5, 'right'),
  txt('the current and previous 36 months.', 38, 1533, 21.5),
  txt('Sources: Bank of Japan, Bankers Trust, Datastream and IMF.', 38, 1567, 21.6),
  txt('Graph V.12', 989, 1567, 21.6, 'right')
];

const chart = echarts.init(document.getElementById('chart'), null, { renderer: 'canvas' });
chart.setOption({
  animation: false,
  backgroundColor: '#ffffff',
  textStyle: { fontFamily: FONT, color: INK },
  grid: grids,
  xAxis: xAxes,
  yAxis: yAxes,
  legend: legends,
  tooltip: { show: false },
  graphic: graphics,
  series
});
</script>
</body>
</html>
